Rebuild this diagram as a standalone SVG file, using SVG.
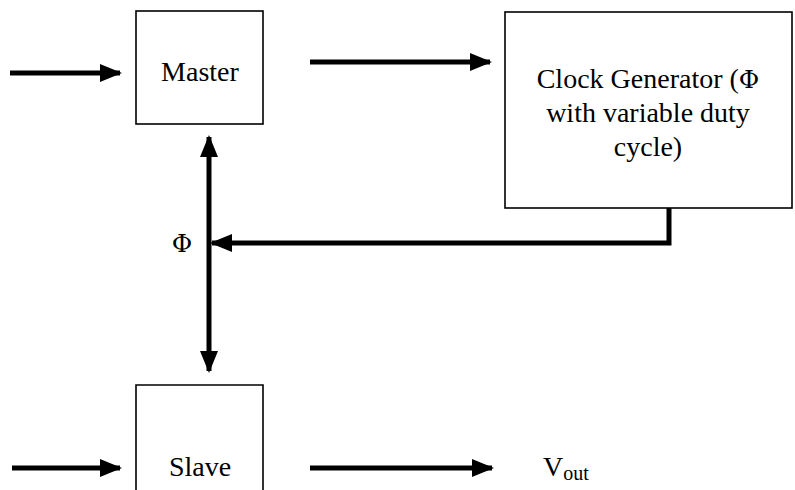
<svg xmlns="http://www.w3.org/2000/svg" width="795" height="490" viewBox="0 0 795 490">
  <defs>
    <marker id="head" markerUnits="userSpaceOnUse" markerWidth="22" markerHeight="18" refX="20" refY="9" orient="auto-start-reverse">
      <path d="M0,0 L22,9 L0,18 Z" fill="#000"/>
    </marker>
  </defs>
  <rect width="795" height="490" fill="#fff"/>

  <!-- block outlines share one stroke style through the parent group -->
  <g fill="#fff" stroke="#000" stroke-width="1.6">
    <g id="master">
      <rect x="136" y="11" width="127" height="113"/>
    </g>
    <g id="clock-generator">
      <rect x="505" y="12" width="287" height="196"/>
    </g>
    <g id="slave">
      <path d="M136,490 V385 H263 V490"/>
    </g>
  </g>

  <text font-family="Liberation Serif" font-size="28" text-anchor="middle" x="200" y="81">Master</text>
  <text font-family="Liberation Serif" font-size="28" text-anchor="middle" x="648" y="88">Clock Generator (<tspan font-family="DejaVu Serif" font-size="25">Φ</tspan></text>
  <text font-family="Liberation Serif" font-size="28" text-anchor="middle" x="648" y="122">with variable duty</text>
  <text font-family="Liberation Serif" font-size="28" text-anchor="middle" x="648" y="156">cycle)</text>
  <text font-family="Liberation Serif" font-size="28" text-anchor="middle" x="200" y="476">Slave</text>
  <text font-family="DejaVu Serif" font-size="25" text-anchor="middle" x="182" y="252">Φ</text>
  <text font-family="Liberation Serif" font-size="28" text-anchor="middle" x="566" y="476">V<tspan font-size="20" dy="4">out</tspan></text>

  <g id="connectors" fill="none" stroke="#000" stroke-width="5">
    <line x1="10" y1="73" x2="120" y2="73" marker-end="url(#head)"/>
    <line x1="310" y1="62" x2="490" y2="62" marker-end="url(#head)"/>
    <polyline points="669,208 669,243 212,243" marker-end="url(#head)"/>
    <line x1="209" y1="137" x2="209" y2="371" marker-start="url(#head)" marker-end="url(#head)"/>
    <line x1="12" y1="468" x2="120" y2="468" marker-end="url(#head)"/>
    <line x1="310" y1="468" x2="492" y2="468" marker-end="url(#head)"/>
  </g>
</svg>
